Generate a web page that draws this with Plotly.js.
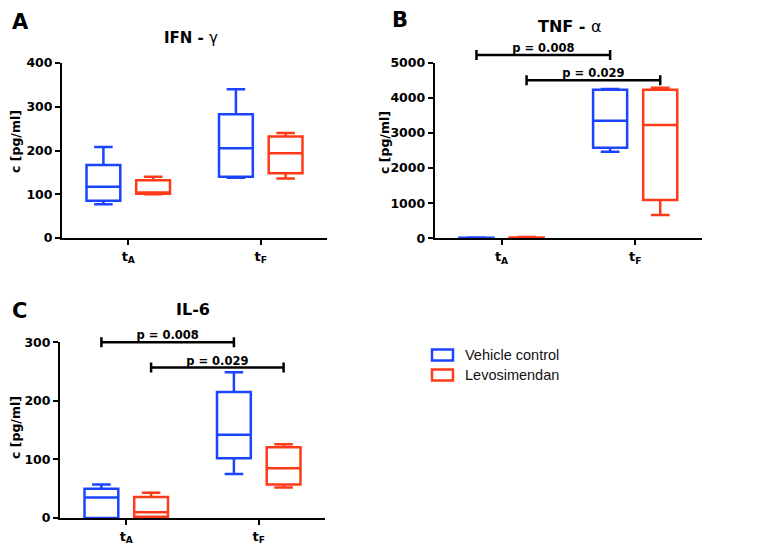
<!DOCTYPE html>
<html><head><meta charset="utf-8">
<script src="https://cdn.plot.ly/plotly-3.0.1.min.js"></script>
<style>html,body{margin:0;padding:0;background:#fff}#chart{width:770px;height:555px}</style>
</head><body><div id="chart"></div><script>
// ---------- data ----------
const timepoints = [0, 1];
const tickLabels = ['t<sub>A</sub>', 't<sub>F</sub>'];
const seriesNames = ['Vehicle control', 'Levosimendan'];
const seriesColors = ['#1a44ff', '#ff3a18'];

// IFN-gamma [pg/ml]  (tA, tF)
const ifnVehLow = [77, 138],  ifnVehQ1 = [85, 140],  ifnVehMed = [117, 205], ifnVehQ3 = [167, 283], ifnVehHigh = [208, 340];
const ifnLevLow = [100, 136], ifnLevQ1 = [101, 148], ifnLevMed = [104, 194], ifnLevQ3 = [132, 232], ifnLevHigh = [140, 240];
// TNF-alpha [pg/ml]
const tnfVehLow = [5, 2465],  tnfVehQ1 = [8, 2580],  tnfVehMed = [12, 3350], tnfVehQ3 = [18, 4230], tnfVehHigh = [25, 4250];
const tnfLevLow = [8, 663],   tnfLevQ1 = [12, 1090], tnfLevMed = [18, 3226], tnfLevQ3 = [25, 4230], tnfLevHigh = [35, 4290];
// IL-6 [pg/ml]
const il6VehLow = [0, 75],    il6VehQ1 = [0, 102],   il6VehMed = [35, 142],  il6VehQ3 = [50, 215],  il6VehHigh = [57, 249];
const il6LevLow = [0, 52],    il6LevQ1 = [2, 57],    il6LevMed = [10, 85],   il6LevQ3 = [36, 121],  il6LevHigh = [43, 126];

// significance brackets (series k: tA vs tF)
const sigLabels = ['p = 0.008', 'p = 0.029'];
const tnfSigLevels = [5220, 4500];
const il6SigLevels = [300, 257];

// ---------- layout helpers ----------
const W = 770, H = 555;
const fx = v => v / W;
const fy = v => 1 - v / H;
const BOXGAP = 0.25, BOXGROUPGAP = 0.32;
const groupOffset = k => 2 * 0.5 * (-0.5 + (k + 0.5) / 2) * (1 - BOXGAP);

const BOLD = {family: 'DejaVu Sans', weight: 'bold', color: '#000'};
const font = (o) => Object.assign({}, BOLD, o);

const panels = [
  {xa: 'x',  ya: 'y',  px: [62, 327],  py: [238, 63],    ymax: 400,  dtick: 100,
   stats: [[ifnVehLow, ifnVehQ1, ifnVehMed, ifnVehQ3, ifnVehHigh], [ifnLevLow, ifnLevQ1, ifnLevMed, ifnLevQ3, ifnLevHigh]]},
  {xa: 'x2', ya: 'y2', px: [434.7, 702], py: [238.3, 62.7], ymax: 5000, dtick: 1000,
   stats: [[tnfVehLow, tnfVehQ1, tnfVehMed, tnfVehQ3, tnfVehHigh], [tnfLevLow, tnfLevQ1, tnfLevMed, tnfLevQ3, tnfLevHigh]],
   sig: tnfSigLevels, aux: 'y5'},
  {xa: 'x3', ya: 'y3', px: [60, 325],  py: [518, 342.3], ymax: 300,  dtick: 100,
   stats: [[il6VehLow, il6VehQ1, il6VehMed, il6VehQ3, il6VehHigh], [il6LevLow, il6LevQ1, il6LevMed, il6LevQ3, il6LevHigh]],
   sig: il6SigLevels, aux: 'y6'}
];

const data = [];
const layout = {
  width: W, height: H, margin: {l: 0, r: 0, t: 0, b: 0},
  paper_bgcolor: '#fff', plot_bgcolor: 'rgba(0,0,0,0)',
  boxmode: 'group', boxgap: BOXGAP, boxgroupgap: BOXGROUPGAP,
  showlegend: false, hovermode: false,
  annotations: [], shapes: []
};

panels.forEach(p => {
  const xName = 'xaxis' + p.xa.slice(1);
  const yName = 'yaxis' + p.ya.slice(1);
  const yd = [fy(p.py[0]), fy(p.py[1])];
  layout[xName] = {
    domain: [fx(p.px[0]), fx(p.px[1])], anchor: p.ya, type: 'linear',
    range: [-0.5, 1.5], tickmode: 'array', tickvals: timepoints, ticktext: tickLabels,
    ticks: 'outside', ticklen: 5, tickwidth: 2, tickcolor: '#000',
    showline: true, linewidth: 2, linecolor: '#000', showgrid: false, zeroline: false,
    tickfont: font({size: 13}), fixedrange: true
  };
  layout[yName] = {
    domain: yd, anchor: p.xa, range: [0, p.ymax], tick0: 0, dtick: p.dtick,
    ticks: 'outside', ticklen: 5, tickwidth: 2, tickcolor: '#000',
    showline: true, linewidth: 2, linecolor: '#000', showgrid: false, zeroline: false,
    tickfont: font({size: 12.5}), fixedrange: true
  };
  p.stats.forEach((st, k) => {
    data.push({
      type: 'box', xaxis: p.xa, yaxis: p.ya, x: timepoints,
      lowerfence: st[0], q1: st[1], median: st[2], q3: st[3], upperfence: st[4],
      name: seriesNames[k], offsetgroup: 'g' + k,
      line: {color: seriesColors[k], width: 2.5}, fillcolor: 'rgba(0,0,0,0)',
      whiskerwidth: 0.55, boxpoints: false, hoverinfo: 'skip', showlegend: false
    });
  });
  if (p.sig) {
    // taller invisible companion axis sharing the same pixel scale
    const top = 0.99;
    const auxName = 'yaxis' + p.aux.slice(1);
    layout[auxName] = {
      domain: [yd[0], top], anchor: p.xa, visible: false, fixedrange: true,
      range: [0, p.ymax * (top - yd[0]) / (yd[1] - yd[0])]
    };
    const mid = (timepoints[0] + timepoints[1]) / 2;
    const half = (timepoints[1] - timepoints[0]) / 2;
    data.push({
      type: 'scatter', mode: 'text', xaxis: p.xa, yaxis: p.aux,
      x: p.sig.map((_, k) => mid + groupOffset(k)), y: p.sig,
      text: sigLabels, textposition: 'top center',
      textfont: font({size: 11.5}), marker: {size: 8},
      error_x: {type: 'data', symmetric: true, array: p.sig.map(() => half),
                color: '#000', thickness: 2.5, width: 5},
      hoverinfo: 'skip', showlegend: false
    });
  }
});

// panel letters, titles, y titles
const labelsTxt = [
  {t: 'A', x: 20, y: 22, s: 21}, {t: 'B', x: 400, y: 20, s: 21}, {t: 'C', x: 19, y: 311, s: 21},
  {t: 'IFN - <span style="font-weight:normal">γ</span>', x: 191, y: 38, s: 15},
  {t: 'TNF - <span style="font-weight:normal">α</span>', x: 570, y: 27, s: 16},
  {t: 'IL-6', x: 193, y: 309, s: 16}
];
labelsTxt.forEach(l => layout.annotations.push({
  xref: 'paper', yref: 'paper', x: fx(l.x), y: fy(l.y), text: l.t, showarrow: false,
  xanchor: 'center', yanchor: 'middle', font: font({size: l.s})
}));
[[15, 142], [384, 143], [15, 428]].forEach(c => layout.annotations.push({
  xref: 'paper', yref: 'paper', x: fx(c[0]), y: fy(c[1]), text: 'c [pg/ml]', textangle: -90,
  showarrow: false, xanchor: 'center', yanchor: 'middle', font: font({size: 12.5})
}));

// legend
seriesNames.forEach((n, k) => {
  const yc = 355 + 20 * k;
  layout.shapes.push({type: 'rect', xref: 'paper', yref: 'paper',
    x0: fx(432), x1: fx(453), y0: fy(yc - 5.5), y1: fy(yc + 5.5),
    line: {color: seriesColors[k], width: 2.5}, fillcolor: 'rgba(0,0,0,0)'});
  layout.annotations.push({xref: 'paper', yref: 'paper', x: fx(463), y: fy(yc), text: n,
    showarrow: false, xanchor: 'left', yanchor: 'middle',
    font: {family: 'Liberation Sans', size: 14.5, color: '#111'}});
});

Plotly.newPlot('chart', data, layout, {staticPlot: true, displayModeBar: false});
</script></body></html>
